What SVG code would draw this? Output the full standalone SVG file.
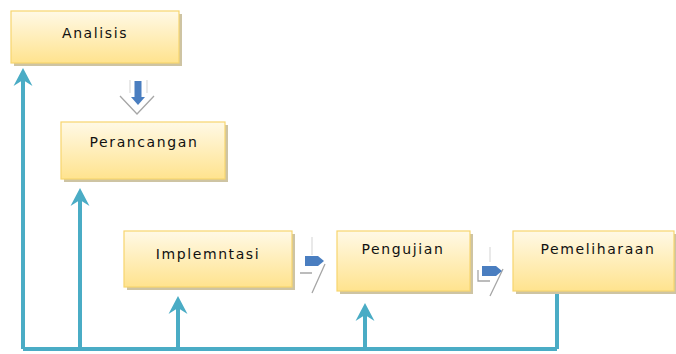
<svg xmlns="http://www.w3.org/2000/svg" width="676" height="354" viewBox="0 0 676 354">
<defs>
<linearGradient id="fillG" x1="0" y1="0" x2="0" y2="1">
<stop offset="0" stop-color="#FFF9E6"/>
<stop offset="1" stop-color="#FFE38E"/>
</linearGradient>
<marker id="ah" markerUnits="userSpaceOnUse" markerWidth="24" markerHeight="24" viewBox="-8 -12 24 24" refX="0" refY="0" orient="auto">
<path d="M12,0 L-6,-9.5 L0,0 L-6,9.5 Z" fill="#4AACC5"/>
</marker>
</defs>
<style>
.box{fill:url(#fillG);stroke:#F7D56E;stroke-width:1.2}
.shadow{fill:#CEC4A3}
.lbl{font-family:"DejaVu Sans",Verdana,sans-serif;font-size:14px;letter-spacing:1.6px;fill:#111;text-anchor:middle}
.conn{fill:none;stroke:#4AACC5;stroke-width:4}
.gray{fill:none;stroke:#A6A6A6;stroke-width:1.3}
.faint{fill:none;stroke:#DADADA;stroke-width:1.2}
.blue{fill:#4A7EC0}
</style>
<rect width="676" height="354" fill="#fff"/>

<g id="connectors">
<path class="conn" d="M23,349 H557"/>
<path class="conn" d="M23,349 V80" marker-end="url(#ah)"/>
<path class="conn" d="M80,349 V200" marker-end="url(#ah)"/>
<path class="conn" d="M178,349 V308" marker-end="url(#ah)"/>
<path class="conn" d="M365,349 V315" marker-end="url(#ah)"/>
<path class="conn" d="M557,349 V292"/>
</g>

<g id="flow-arrows">
<g id="arrow-down">
<path class="faint" d="M130,80 V93 M147,80 V93"/>
<path class="gray" d="M120,96 L137,114 L154,96"/>
<path class="blue" d="M134.5,81 H141.5 V97 H145 L138,105 L131,97 H134.5 Z"/>
</g>
<g id="arrow-right-1">
<path class="faint" d="M312,237 V255"/>
<path class="gray" d="M300,273 H312 M325,264 L312,293"/>
<path class="blue" d="M305,256 H318 L324,261 L318,266 H305 Z"/>
</g>
<g id="arrow-right-2">
<path class="faint" d="M490,247 V262"/>
<path class="gray" d="M478,270 V281 H490 M503,269 L490,296"/>
<path class="blue" d="M482,266 H496 L502,271 L496,276 H482 Z"/>
</g>
</g>

<g id="node-analisis">
<rect class="shadow" x="14" y="14" width="168" height="52"/>
<rect class="box" x="11" y="11" width="168" height="52"/>
<text class="lbl" x="95" y="38">Analisis</text>
</g>

<g id="node-perancangan">
<rect class="shadow" x="64" y="125" width="164" height="57"/>
<rect class="box" x="61" y="122" width="164" height="57"/>
<text class="lbl" x="144" y="147">Perancangan</text>
</g>

<g id="node-implementasi">
<rect class="shadow" x="127" y="234" width="168" height="56"/>
<rect class="box" x="124" y="231" width="168" height="56"/>
<text class="lbl" x="208" y="259">Implemntasi</text>
</g>

<g id="node-pengujian">
<rect class="shadow" x="340" y="234" width="133" height="60"/>
<rect class="box" x="337" y="231" width="133" height="60"/>
<text class="lbl" x="403" y="254">Pengujian</text>
</g>

<g id="node-pemeliharaan">
<rect class="shadow" x="516" y="234" width="162" height="60"/>
<rect class="box" x="513" y="231" width="161" height="60"/>
<text class="lbl" x="598" y="254">Pemeliharaan</text>
</g>
</svg>
